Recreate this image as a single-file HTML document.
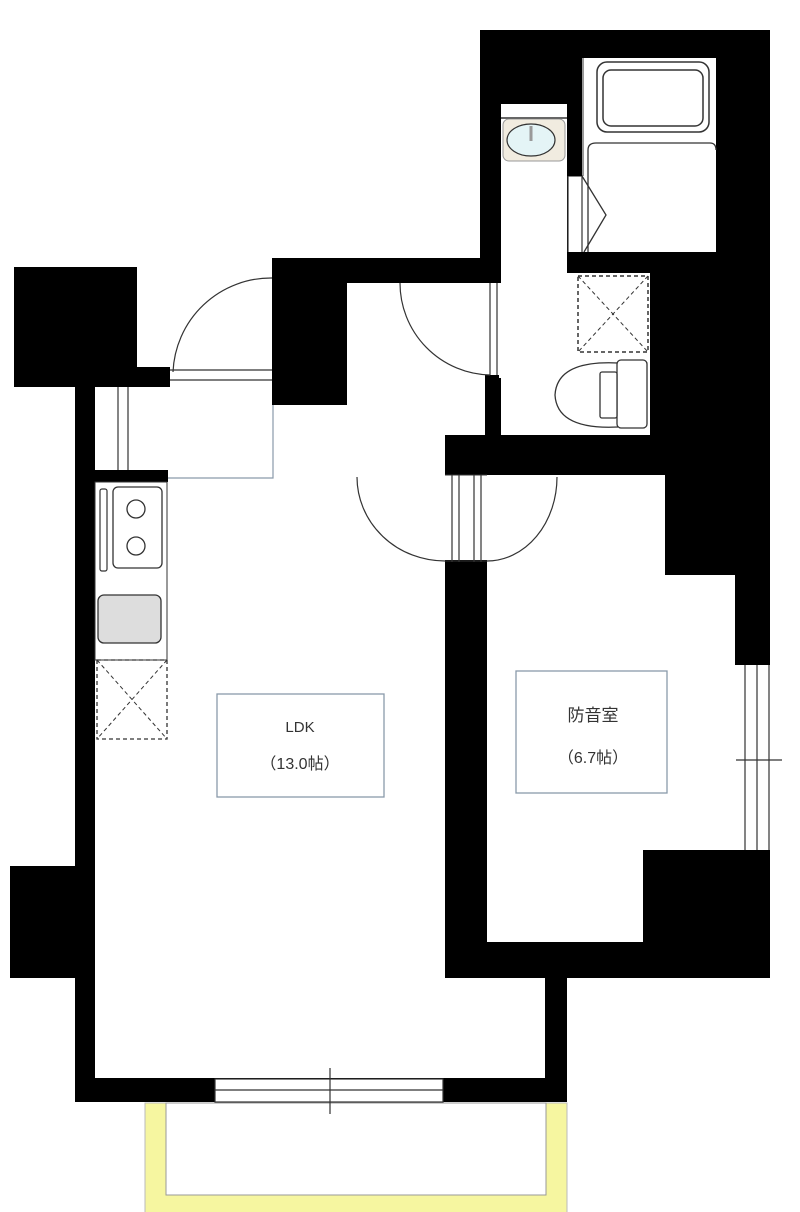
<!DOCTYPE html>
<html><head><meta charset="utf-8"><style>
html,body{margin:0;padding:0;background:#fff;}
svg{display:block;}
text{font-family:"Liberation Sans","Noto Sans CJK JP",sans-serif;fill:#333;}
</style></head><body>
<svg width="800" height="1212" viewBox="0 0 800 1212" xmlns="http://www.w3.org/2000/svg">
<rect width="800" height="1212" fill="#fff"/>
<rect x="145" y="1103" width="422" height="120" fill="#f6f6a0" stroke="#bbb" stroke-width="1"/>
<rect x="166" y="1103" width="380" height="92" fill="#fff" stroke="#999" stroke-width="1"/>
<g fill="#000">
<rect x="480" y="30" width="290" height="445"/>
<rect x="272" y="258" width="75" height="147"/>
<rect x="345" y="258" width="140" height="25"/>
<rect x="14" y="267" width="123" height="120"/>
<rect x="137" y="367" width="33" height="20"/>
<rect x="75" y="387" width="20" height="715"/>
<rect x="95" y="470" width="73" height="12"/>
<rect x="10" y="866" width="125" height="112"/>
<rect x="75" y="1078" width="492" height="24"/>
<rect x="545" y="975" width="22" height="127"/>
<rect x="445" y="435" width="42" height="543"/>
<rect x="445" y="942" width="325" height="36"/>
<rect x="665" y="470" width="105" height="105"/>
<rect x="735" y="470" width="35" height="195"/>
</g>
<g fill="#fff">
<rect x="582" y="58" width="134" height="194"/>
<rect x="501" y="104" width="66" height="331"/>
<rect x="567" y="273" width="83" height="162"/>
<rect x="497" y="283" width="4" height="95"/>
<rect x="347" y="283" width="138" height="152"/>
<rect x="347" y="405" width="98" height="70"/>
<rect x="487" y="475" width="178" height="467"/>
<rect x="665" y="575" width="70" height="275"/>
<rect x="95" y="387" width="177" height="83"/>
<rect x="168" y="405" width="277" height="673"/>
<rect x="95" y="482" width="350" height="596"/>
<rect x="135" y="978" width="410" height="100"/>
</g>
<rect x="643" y="850" width="127" height="100" fill="#000"/>
<rect x="485" y="283" width="12" height="92" fill="#fff"/>
<rect x="485" y="375" width="14" height="60" fill="#000"/>
<line x1="490" y1="283" x2="490" y2="375" stroke="#333" stroke-width="1.2"/>
<line x1="497" y1="283" x2="497" y2="375" stroke="#333" stroke-width="1.2"/>
<path d="M400 283 A92 92 0 0 0 490 375" fill="none" stroke="#333" stroke-width="1.2"/>
<rect x="597" y="62" width="112" height="70" rx="10" fill="none" stroke="#333" stroke-width="1.5"/>
<rect x="603" y="70" width="100" height="56" rx="8" fill="none" stroke="#333" stroke-width="1.5"/>
<path d="M588 252 V150 Q588 143 596 143 H710 Q716 143 716 150" fill="none" stroke="#333" stroke-width="1.3"/>
<line x1="583" y1="58" x2="583" y2="176" stroke="#555" stroke-width="1.2"/>
<rect x="568" y="176" width="14" height="77" fill="#fff" stroke="#333" stroke-width="1.2"/>
<path d="M582 176 L606 215 L584 252" fill="none" stroke="#333" stroke-width="1.3"/>
<rect x="567" y="252" width="85" height="21" fill="#000"/>
<rect x="567" y="104" width="15" height="72" fill="#000"/>
<line x1="501" y1="118" x2="567" y2="118" stroke="#333" stroke-width="1.5"/>
<rect x="503" y="119" width="62" height="42" rx="6" fill="#f1ece0" stroke="#999"/>
<ellipse cx="531" cy="140" rx="24" ry="16" fill="#e4f4f6" stroke="#333" stroke-width="1.2"/>
<line x1="531" y1="126" x2="531" y2="141" stroke="#999" stroke-width="3"/>
<rect x="578" y="276" width="70" height="76" fill="none" stroke="#333" stroke-width="1.5" stroke-dasharray="4,3"/>
<path d="M578 276 L648 352 M648 276 L578 352" stroke="#333" stroke-width="1" stroke-dasharray="4,3"/>
<path d="M618 363 Q557 360 555 395 Q557 430 618 427" fill="none" stroke="#333" stroke-width="1.3"/>
<rect x="617" y="360" width="30" height="68" rx="4" fill="#fff" stroke="#333" stroke-width="1.3"/>
<rect x="600" y="372" width="17" height="46" rx="2" fill="#fff" stroke="#333" stroke-width="1.3"/>
<line x1="170" y1="370" x2="272" y2="370" stroke="#333" stroke-width="1.2"/>
<line x1="170" y1="380" x2="272" y2="380" stroke="#333" stroke-width="1.2"/>
<path d="M272 278 A98 98 0 0 0 173 372" fill="none" stroke="#333" stroke-width="1.2"/>
<line x1="118" y1="387" x2="118" y2="470" stroke="#333" stroke-width="1.2"/>
<line x1="128" y1="387" x2="128" y2="470" stroke="#333" stroke-width="1.2"/>
<path d="M273 405 V478 H168" fill="none" stroke="#8a9aaa" stroke-width="1.2"/>
<rect x="95" y="482" width="72" height="178" fill="#fff" stroke="#333" stroke-width="1"/>
<rect x="100" y="489" width="7" height="82" rx="2" fill="none" stroke="#333" stroke-width="1.2"/>
<rect x="113" y="487" width="49" height="81" rx="5" fill="none" stroke="#333" stroke-width="1.3"/>
<circle cx="136" cy="509" r="9" fill="none" stroke="#333" stroke-width="1.3"/>
<circle cx="136" cy="546" r="9" fill="none" stroke="#333" stroke-width="1.3"/>
<rect x="98" y="595" width="63" height="48" rx="6" fill="#ddd" stroke="#333" stroke-width="1.3"/>
<rect x="97" y="660" width="70" height="79" fill="none" stroke="#333" stroke-width="1.3" stroke-dasharray="4,3"/>
<path d="M97 660 L167 739 M167 660 L97 739" stroke="#333" stroke-width="1" stroke-dasharray="4,3"/>
<rect x="445" y="475" width="42" height="85" fill="#fff"/>
<line x1="452" y1="475" x2="452" y2="562" stroke="#333" stroke-width="1.2"/>
<line x1="459" y1="475" x2="459" y2="562" stroke="#333" stroke-width="1.2"/>
<line x1="474" y1="475" x2="474" y2="562" stroke="#333" stroke-width="1.2"/>
<line x1="481" y1="475" x2="481" y2="562" stroke="#333" stroke-width="1.2"/>
<line x1="445" y1="475" x2="487" y2="475" stroke="#333" stroke-width="1"/>
<path d="M357 477 A88 84 0 0 0 445 561" fill="none" stroke="#333" stroke-width="1.2"/>
<path d="M557 477 A70 84 0 0 1 487 561" fill="none" stroke="#333" stroke-width="1.2"/>
<line x1="445" y1="561" x2="487" y2="561" stroke="#333" stroke-width="1"/>
<rect x="745" y="665" width="25" height="185" fill="#fff"/>
<line x1="745" y1="665" x2="745" y2="850" stroke="#333" stroke-width="1.2"/>
<line x1="757" y1="665" x2="757" y2="850" stroke="#333" stroke-width="1.2"/>
<line x1="769" y1="665" x2="769" y2="850" stroke="#333" stroke-width="1.2"/>
<line x1="736" y1="760" x2="782" y2="760" stroke="#333" stroke-width="1.2"/>
<rect x="215" y="1079" width="228" height="23" fill="#fff" stroke="#333" stroke-width="1.2"/>
<line x1="215" y1="1090" x2="443" y2="1090" stroke="#333" stroke-width="1.2"/>
<line x1="330" y1="1068" x2="330" y2="1114" stroke="#333" stroke-width="1.2"/>
<rect x="217" y="694" width="167" height="103" fill="#fff" stroke="#8a9aaa" stroke-width="1.3"/>
<text x="300" y="732" font-size="15" text-anchor="middle">LDK</text>
<text x="300" y="769" font-size="16" text-anchor="middle">（13.0帖）</text>
<rect x="516" y="671" width="151" height="122" fill="#fff" stroke="#8a9aaa" stroke-width="1.3"/>
<text x="593" y="721" font-size="17" text-anchor="middle">防音室</text>
<text x="593" y="763" font-size="16" text-anchor="middle">（6.7帖）</text>
</svg>
</body></html>
